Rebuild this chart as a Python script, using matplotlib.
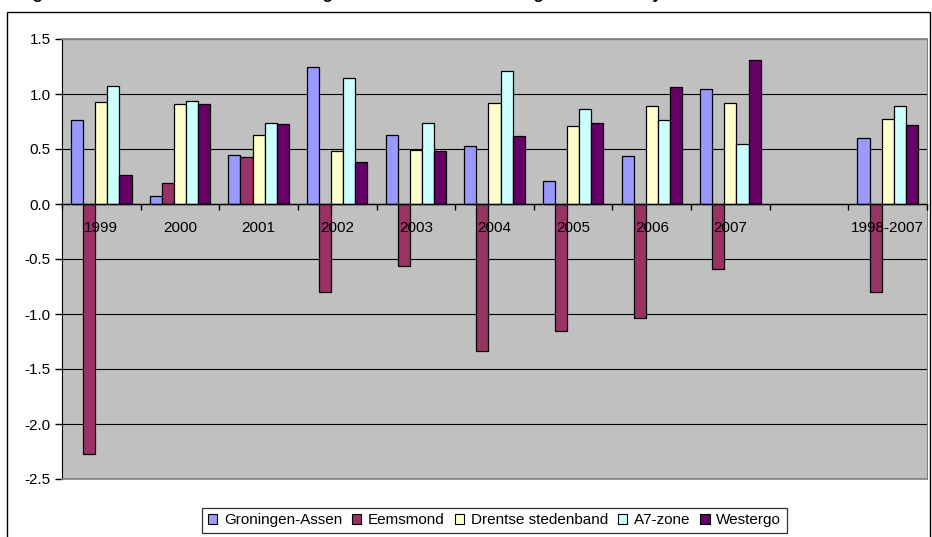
import matplotlib
matplotlib.use('Agg')
import matplotlib.pyplot as plt
import numpy as np
from matplotlib.patches import Rectangle

plt.rcParams['font.family'] = ['Liberation Sans', 'DejaVu Sans']

# Data
categories = ['1999', '2000', '2001', '2002', '2003', '2004', '2005', '2006',
              '2007', '', '1998-2007']
groningen_assen = [0.76, 0.07, 0.45, 1.25, 0.63, 0.53, 0.21, 0.44, 1.05, np.nan, 0.60]
eemsmond = [-2.27, 0.19, 0.43, -0.80, -0.56, -1.34, -1.15, -1.04, -0.59, np.nan, -0.80]
drentse = [0.93, 0.91, 0.63, 0.48, 0.49, 0.92, 0.71, 0.89, 0.92, np.nan, 0.77]
a7_zone = [1.07, 0.94, 0.74, 1.15, 0.74, 1.21, 0.86, 0.76, 0.55, np.nan, 0.89]
westergo = [0.26, 0.91, 0.73, 0.38, 0.48, 0.62, 0.74, 1.06, 1.31, np.nan, 0.72]

series_names = ['Groningen-Assen', 'Eemsmond', 'Drentse stedenband', 'A7-zone', 'Westergo']
series_values = [groningen_assen, eemsmond, drentse, a7_zone, westergo]
series_colors = ['#9999FF', '#993366', '#FFFFCC', '#CCFFFF', '#660066']

yticks = np.arange(-2.5, 1.51, 0.5)

fig = plt.figure(figsize=(9.32, 5.37), dpi=100)
ax = fig.add_axes([62 / 932, 58 / 537, 865 / 932, 440 / 537])
ax.set_facecolor('#C0C0C0')

# gridlines below the bars
for yv in yticks:
    ax.axhline(yv, color='black', linewidth=0.8, zorder=1)

x = np.arange(len(categories))
w = 1 / 6.5
for i, (name, vals, col) in enumerate(zip(series_names, series_values, series_colors)):
    ax.bar(x + (i - 2) * w, vals, width=w, color=col, edgecolor='black',
           linewidth=0.9, label=name, zorder=2)

ax.set_xlim(-0.5, len(categories) - 0.5)
ax.set_ylim(-2.5, 1.5)
ax.set_yticks(yticks)
ax.set_yticklabels(['%.1f' % v for v in yticks])
ax.set_axisbelow(False)

# category axis at zero, labels drawn over the bars
ax.spines['bottom'].set_position(('data', 0))
ax.spines['bottom'].set_linewidth(1.0)
ax.set_xticks(x)
ax.set_xticklabels(categories)
ax.set_xticks(np.arange(-0.5, len(categories)), minor=True)
ax.tick_params(axis='x', which='major', length=0, pad=12, labelsize=11)
ax.tick_params(axis='x', which='minor', length=4, width=1, direction='out')
ax.tick_params(axis='y', length=5, width=1, direction='out', pad=3, labelsize=11)

ax.spines['left'].set_color('black')
ax.spines['top'].set_color('#808080')
ax.spines['right'].set_color('#808080')
ax.axhline(-2.5, color='#808080', linewidth=1.2, zorder=2.6, clip_on=False)
ax.axhline(1.5, color='#808080', linewidth=1.2, zorder=2.6, clip_on=False)

# legend
leg = fig.legend(loc='upper center', bbox_to_anchor=(494.5 / 932, 29 / 537),
                 ncol=5, fontsize=11, frameon=True, fancybox=False,
                 edgecolor='black', handlelength=0.6, handleheight=0.6,
                 handletextpad=0.45, columnspacing=0.65, borderpad=0.35,
                 borderaxespad=0)
leg.get_frame().set_linewidth(0.9)
for h in leg.legend_handles:
    h.set_linewidth(0.8)

# outer chart frame
fig.patches.append(Rectangle((7 / 932, -0.02), 923 / 932, (537 - 12) / 537 + 0.02,
                             transform=fig.transFigure, fill=False,
                             edgecolor='black', linewidth=1.0))

# title, cut off at the top of the image (only descenders show)
fig.text(18 / 932, 1 + 0.5 / 537,
         'Figuur 3.1 Relatieve banen ontwikkeling in alle vier netwerken volgens onze analyse',
         fontsize=12, fontweight='bold', ha='left', va='baseline')

fig.savefig('out.png', dpi=100)
